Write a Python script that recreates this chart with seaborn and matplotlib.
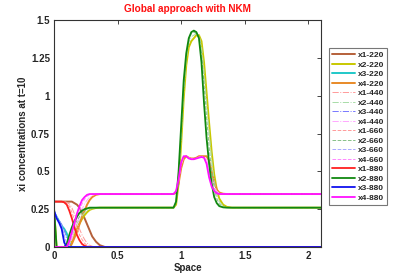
import matplotlib
matplotlib.use("Agg")
import matplotlib.pyplot as plt
import numpy as np
import pandas as pd
import seaborn as sns

# ----------------------------------------------------------------------
# data
# ----------------------------------------------------------------------
space = [0, 0.02, 0.04, 0.06, 0.08, 0.10, 0.12, 0.14, 0.16, 0.18,
         0.20, 0.22, 0.24, 0.26, 0.28, 0.30, 0.33, 0.36, 0.40, 0.50,
         0.70, 0.90, 0.94, 0.96, 0.98, 1.00, 1.02, 1.04, 1.06, 1.08,
         1.10, 1.12, 1.14, 1.16, 1.18, 1.20, 1.22, 1.24, 1.26, 1.28,
         1.30, 1.33, 1.36, 1.40, 1.60, 1.80, 2.00, 2.10]

Z = [0] * 29  # zero tail from x=0.40 on

x1_220 = [0.30, 0.30, 0.30, 0.30, 0.30, 0.30, 0.30, 0.30, 0.29, 0.28,
          0.26, 0.23, 0.19, 0.15, 0.11, 0.07, 0.035, 0.012, 0] + Z
x1_440 = [0.30, 0.30, 0.30, 0.30, 0.30, 0.295, 0.285, 0.26, 0.22, 0.17,
          0.12, 0.08, 0.05, 0.025, 0.012, 0.005, 0, 0, 0] + Z
x1_660 = [0.30, 0.30, 0.30, 0.30, 0.30, 0.29, 0.27, 0.23, 0.18, 0.13,
          0.08, 0.05, 0.025, 0.01, 0.004, 0, 0, 0, 0] + Z
x1_880 = [0.30, 0.30, 0.30, 0.30, 0.295, 0.28, 0.24, 0.19, 0.13, 0.08,
          0.045, 0.02, 0.008, 0.002, 0, 0, 0, 0, 0] + Z

x2_220 = [0.25, 0, 0, 0, 0, 0, 0.01, 0.04, 0.08, 0.12,
          0.155, 0.185, 0.21, 0.23, 0.245, 0.252, 0.258, 0.26, 0.26, 0.26,
          0.26, 0.26, 0.26, 0.28, 0.42, 0.68, 0.98, 1.20, 1.32, 1.36,
          1.38, 1.40, 1.40, 1.36, 1.22, 1.02, 0.82, 0.63, 0.48, 0.38,
          0.32, 0.28, 0.265, 0.26, 0.26, 0.26, 0.26, 0.26]
x2_440 = [0.25, 0, 0, 0, 0, 0, 0.03, 0.07, 0.11, 0.15,
          0.18, 0.205, 0.225, 0.24, 0.25, 0.255, 0.26, 0.26, 0.26, 0.26,
          0.26, 0.26, 0.26, 0.29, 0.45, 0.72, 1.02, 1.24, 1.35, 1.39,
          1.40, 1.41, 1.40, 1.33, 1.16, 0.95, 0.76, 0.58, 0.44, 0.35,
          0.30, 0.272, 0.262, 0.26, 0.26, 0.26, 0.26, 0.26]
x2_660 = [0.25, 0, 0, 0, 0, 0.01, 0.05, 0.10, 0.14, 0.175,
          0.20, 0.225, 0.24, 0.25, 0.256, 0.26, 0.26, 0.26, 0.26, 0.26,
          0.26, 0.26, 0.26, 0.295, 0.48, 0.76, 1.06, 1.26, 1.37, 1.41,
          1.42, 1.41, 1.38, 1.28, 1.08, 0.86, 0.66, 0.50, 0.39, 0.32,
          0.285, 0.265, 0.26, 0.26, 0.26, 0.26, 0.26, 0.26]
x2_880 = [0.25, 0, 0, 0, 0, 0.02, 0.08, 0.13, 0.17, 0.20,
          0.225, 0.24, 0.25, 0.255, 0.26, 0.26, 0.26, 0.26, 0.26, 0.26,
          0.26, 0.26, 0.26, 0.30, 0.50, 0.80, 1.10, 1.28, 1.38, 1.42,
          1.43, 1.42, 1.38, 1.22, 0.95, 0.72, 0.55, 0.42, 0.33, 0.29,
          0.27, 0.262, 0.26, 0.26, 0.26, 0.26, 0.26, 0.26]

x3_220 = [0.23, 0.20, 0.17, 0.14, 0.12, 0.09, 0.03, 0, 0, 0,
          0, 0, 0, 0, 0, 0, 0, 0, 0] + Z
x3_440 = [0.235, 0.20, 0.175, 0.15, 0.11, 0.06, 0.01, 0, 0, 0,
          0, 0, 0, 0, 0, 0, 0, 0, 0] + Z
x3_660 = [0.24, 0.20, 0.17, 0.14, 0.08, 0.02, 0, 0, 0, 0,
          0, 0, 0, 0, 0, 0, 0, 0, 0] + Z
x3_880 = [0.24, 0.19, 0.16, 0.12, 0.03, 0, 0, 0, 0, 0,
          0, 0, 0, 0, 0, 0, 0, 0, 0] + Z

x4_220 = [0, 0, 0, 0, 0, 0, 0, 0.02, 0.06, 0.10,
          0.15, 0.20, 0.24, 0.28, 0.31, 0.33, 0.345, 0.35, 0.35, 0.35,
          0.35, 0.35, 0.35, 0.36, 0.42, 0.52, 0.58, 0.60, 0.59, 0.585,
          0.585, 0.59, 0.60, 0.60, 0.60, 0.60, 0.57, 0.50, 0.43, 0.38,
          0.36, 0.352, 0.35, 0.35, 0.35, 0.35, 0.35, 0.35]
x4_440 = [0, 0, 0, 0, 0, 0, 0.01, 0.05, 0.10, 0.15,
          0.20, 0.25, 0.285, 0.31, 0.33, 0.34, 0.35, 0.35, 0.35, 0.35,
          0.35, 0.35, 0.35, 0.365, 0.43, 0.54, 0.59, 0.60, 0.59, 0.583,
          0.583, 0.588, 0.595, 0.598, 0.598, 0.58, 0.53, 0.46, 0.40, 0.37,
          0.355, 0.35, 0.35, 0.35, 0.35, 0.35, 0.35, 0.35]
x4_660 = [0, 0, 0, 0, 0, 0, 0.02, 0.07, 0.13, 0.19,
          0.24, 0.285, 0.315, 0.335, 0.345, 0.35, 0.35, 0.35, 0.35, 0.35,
          0.35, 0.35, 0.35, 0.37, 0.44, 0.55, 0.60, 0.60, 0.588, 0.582,
          0.582, 0.587, 0.592, 0.597, 0.595, 0.565, 0.49, 0.42, 0.38, 0.36,
          0.352, 0.35, 0.35, 0.35, 0.35, 0.35, 0.35, 0.35]
x4_880 = [0, 0, 0, 0, 0, 0, 0.04, 0.10, 0.16, 0.22,
          0.27, 0.31, 0.33, 0.345, 0.35, 0.35, 0.35, 0.35, 0.35, 0.35,
          0.35, 0.35, 0.35, 0.37, 0.45, 0.56, 0.60, 0.60, 0.585, 0.58,
          0.58, 0.585, 0.59, 0.595, 0.59, 0.55, 0.46, 0.40, 0.37, 0.355,
          0.35, 0.35, 0.35, 0.35, 0.35, 0.35, 0.35, 0.35]

x_ticks = [0, 0.5, 1, 1.5, 2]
y_ticks = [0, 0.25, 0.5, 0.75, 1, 1.25, 1.5]
y_tick_labels = ["0", "0.25", "0.5", "0.75", "1", "1.25", "1.5"]
x_tick_labels = ["0", "0.5", "1", "1.5", "2"]

# ----------------------------------------------------------------------
# styles
# ----------------------------------------------------------------------
series = [
    ("x1-220", x1_220, "#b5603a", "-", 1.4),
    ("x2-220", x2_220, "#c8c800", "-", 1.4),
    ("x3-220", x3_220, "#20c8c8", "-", 1.4),
    ("x4-220", x4_220, "#e88a28", "-", 1.4),
    ("x1-440", x1_440, "#ff9a9a", "-.", 0.7),
    ("x2-440", x2_440, "#a8dca8", "-.", 0.7),
    ("x3-440", x3_440, "#7878ff", "-.", 0.7),
    ("x4-440", x4_440, "#ffa8ff", "-.", 0.7),
    ("x1-660", x1_660, "#ff9a9a", "--", 0.7),
    ("x2-660", x2_660, "#88c088", "--", 0.7),
    ("x3-660", x3_660, "#a8a8ff", "--", 0.7),
    ("x4-660", x4_660, "#ff88ff", "--", 0.7),
    ("x1-880", x1_880, "#ff2020", "-", 1.3),
    ("x2-880", x2_880, "#108810", "-", 1.3),
    ("x3-880", x3_880, "#1010ee", "-", 1.3),
    ("x4-880", x4_880, "#ff10ff", "-", 1.3),
]

sns.set_style("white")
plt.rcParams['font.family'] = ['Liberation Sans', 'DejaVu Sans']

fig = plt.figure(figsize=(4.19, 2.78), dpi=100)
ax = fig.add_axes([0.129, 0.1115, 0.637, 0.8165])

for name, vals, col, ls, lw in series:
    df = pd.DataFrame({'x': space, 'y': vals})
    sns.lineplot(data=df, x='x', y='y', ax=ax, color=col, linestyle=ls,
                 linewidth=lw, sort=False, estimator=None, legend=False)

ax.set_xlim(0, 2.1)
ax.set_ylim(0, 1.5)
ax.set_xticks(x_ticks)
ax.set_xticklabels(x_tick_labels, fontweight='bold')
ax.set_yticks(y_ticks)
ax.set_yticklabels(y_tick_labels, fontweight='bold')
ax.tick_params(direction='in', length=3, width=0.6, labelsize=7,
               top=True, right=True, pad=3)
for s in ax.spines.values():
    s.set_color('#333333')
    s.set_linewidth(0.8)

ax.set_xlabel('Space', fontsize=7, fontweight='bold', labelpad=1)
ax.set_ylabel('xi concentrations at t=10', fontsize=7, fontweight='bold',
              labelpad=2)
ax.set_title('Global approach with NKM', color='#ff1010', fontsize=7.2,
             fontweight='bold', pad=6)

leg = ax.legend(ax.get_lines()[:len(series)], [s[0] for s in series],
                loc='upper left', bbox_to_anchor=(0.786, 0.826),
                bbox_transform=fig.transFigure,
                prop={'size': 6, 'weight': 'bold'},
                handlelength=2.7, handletextpad=0.4, labelspacing=0.2,
                borderpad=0.35, borderaxespad=0, frameon=True, fancybox=False)
leg.get_frame().set_edgecolor('#555555')
leg.get_frame().set_linewidth(0.8)

fig.savefig('out.png', dpi=100)
